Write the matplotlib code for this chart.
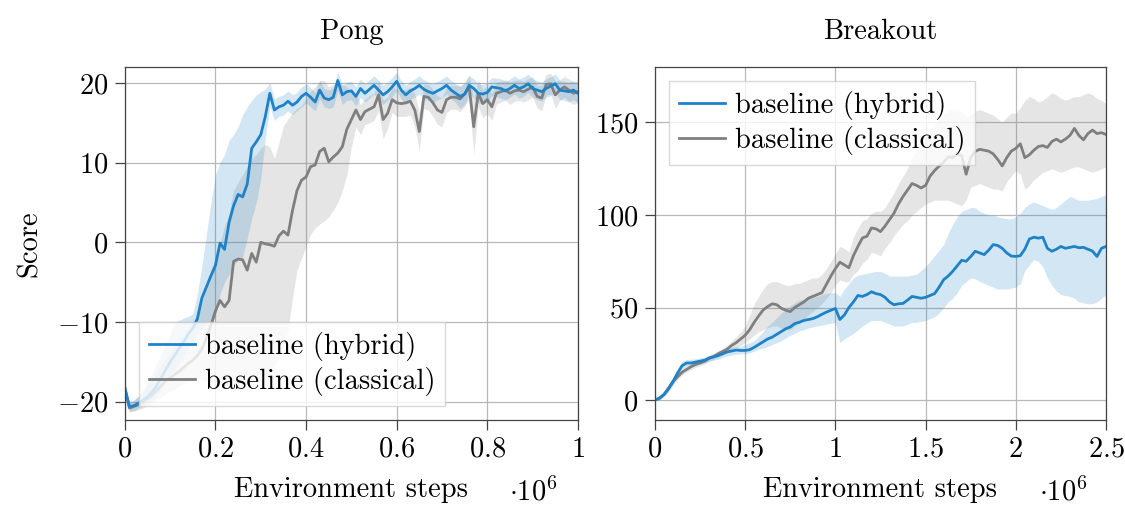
import matplotlib
matplotlib.use("Agg")
import matplotlib.pyplot as plt
import numpy as np
from matplotlib.ticker import FuncFormatter, MultipleLocator

# ---- Data ----
pong_steps = np.linspace(0, 1e6, 101)

pong_hyb = [-18.3, -20.6, -20.5, -20.2, -19.8, -19.4, -18.8, -18.0, -17.0, -16.0,
            -15.0, -14.2, -13.3, -12.5, -11.5, -10.8, -9.6, -7.0, -5.6, -4.2,
            -2.9, -0.1, -0.9, 2.5, 4.6, 6.0, 5.7, 7.3, 11.8, 12.6,
            13.5, 15.8, 18.7, 16.6, 17.0, 17.2, 17.7, 17.2, 17.6, 18.3,
            18.7, 18.2, 17.6, 19.1, 18.1, 17.9, 18.2, 20.3, 18.5, 18.9,
            19.0, 18.3, 19.3, 18.7, 19.2, 19.7, 19.1, 18.5, 18.9, 19.5,
            20.2, 19.1, 18.5, 19.0, 19.3, 19.7, 19.2, 18.9, 18.7, 19.0,
            19.3, 19.7, 19.1, 18.7, 18.3, 18.6, 19.7, 19.3, 18.7, 18.6,
            18.8, 19.5, 19.4, 19.3, 19.0, 19.3, 19.7, 19.3, 19.5, 19.9,
            19.3, 19.1, 18.9, 19.3, 19.6, 19.9, 19.1, 19.0, 18.9, 19.1,
            18.7]
pong_hyb_lo = [-18.8, -21.2, -21.1, -20.8, -20.5, -20.1, -19.8, -19.3, -18.5, -17.5,
               -16.5, -16.0, -15.2, -14.3, -13.3, -12.3, -11.5, -10.8, -10.2, -9.8,
               -9.3, -6.5, -5.0, -4.0, -2.8, -2.3, -1.8, 0.5, 3.0, 5.0,
               8.0, 13.0, 17.0, 15.3, 15.8, 16.0, 16.5, 16.0, 16.5, 17.0,
               17.5, 17.0, 16.5, 18.0, 17.0, 16.8, 17.0, 19.0, 17.3, 17.8,
               17.9, 17.1, 18.2, 17.6, 18.1, 18.6, 18.0, 17.3, 17.8, 18.3,
               19.0, 18.0, 17.3, 17.9, 18.2, 18.6, 18.0, 17.8, 17.5, 17.9,
               18.1, 18.6, 18.0, 17.5, 16.8, 17.3, 18.6, 18.1, 17.5, 17.4,
               17.6, 18.4, 18.3, 18.1, 17.9, 18.2, 18.6, 18.1, 18.3, 18.8,
               18.2, 17.9, 17.7, 18.2, 18.4, 18.8, 17.9, 17.8, 17.6, 17.9,
               17.5]
pong_hyb_hi = [-17.8, -20.0, -19.8, -19.3, -18.5, -17.5, -16.5, -15.2, -14.0, -12.8,
               -11.5, -10.0, -9.8, -9.5, -9.3, -9.0, -6.5, -3.0, 1.0, 5.0,
               8.5, 10.0, 11.0, 12.8, 13.5, 14.5, 16.0, 17.0, 17.8, 18.5,
               18.9, 19.2, 20.0, 18.0, 18.3, 18.5, 19.0, 18.5, 18.8, 19.5,
               19.9, 19.4, 18.8, 20.3, 19.3, 19.1, 19.4, 21.4, 19.7, 20.1,
               20.2, 19.5, 20.5, 19.9, 20.4, 20.9, 20.3, 19.7, 20.1, 20.7,
               21.3, 20.3, 19.7, 20.2, 20.5, 20.9, 20.4, 20.1, 19.9, 20.2,
               20.5, 20.9, 20.3, 19.9, 19.6, 19.9, 20.9, 20.5, 19.9, 19.8,
               20.0, 20.7, 20.6, 20.5, 20.2, 20.5, 20.9, 20.5, 20.7, 21.1,
               20.5, 20.3, 20.1, 20.5, 20.8, 21.1, 20.3, 20.2, 20.1, 20.3,
               19.9]

pong_cls = [-18.3, -20.8, -20.6, -20.4, -20.0, -19.6, -19.2, -18.6, -18.0, -17.4,
            -17.0, -16.6, -16.2, -15.7, -15.2, -14.8, -14.2, -13.4, -12.0, -10.4,
            -8.6, -7.3, -8.1, -7.3, -2.4, -2.1, -2.2, -3.5, -1.4, -2.5,
            0.0, -0.2, -0.3, -0.5, 0.8, 1.4, 0.9, 4.0, 6.5, 7.8,
            8.2, 9.5, 9.7, 11.4, 11.8, 10.1, 10.7, 11.2, 12.0, 14.2,
            15.4, 16.6, 15.4, 16.4, 16.7, 17.0, 18.5, 15.4, 16.2, 17.9,
            17.5, 17.4, 17.5, 17.7, 16.6, 13.9, 18.3, 18.2, 17.5, 16.6,
            16.3, 17.9, 18.2, 18.2, 18.0, 18.6, 19.5, 14.5, 18.7, 17.4,
            17.9, 17.0, 18.7, 18.9, 19.1, 18.7, 19.0, 19.1, 18.9, 19.2,
            19.5, 18.3, 18.1, 19.8, 19.9, 18.5, 19.1, 19.5, 19.1, 18.7,
            18.9]
pong_cls_lo = [-18.8, -21.3, -21.2, -21.0, -20.8, -20.5, -20.2, -19.8, -19.4, -19.0,
               -18.7, -18.4, -18.0, -17.7, -17.4, -17.0, -17.0, -17.2, -17.4, -17.5,
               -17.5, -17.6, -17.8, -18.0, -18.0, -18.0, -18.0, -17.8, -17.5, -17.2,
               -17.0, -16.5, -16.0, -15.5, -14.5, -13.0, -11.0, -7.0, -3.5, -2.0,
               -0.5, 1.0, 1.8, 2.3, 2.7, 3.2, 4.0, 5.0, 6.5, 8.5,
               12.0, 14.5, 13.5, 14.8, 15.0, 15.3, 16.5, 13.0, 14.3, 16.3,
               15.8, 15.8, 15.8, 16.0, 14.5, 11.5, 16.8, 16.6, 15.8, 14.8,
               14.5, 16.3, 16.7, 16.7, 16.4, 17.1, 18.0, 11.0, 17.0, 15.6,
               16.2, 15.3, 17.3, 17.6, 17.8, 17.3, 17.7, 17.8, 17.6, 17.9,
               18.2, 16.9, 16.5, 18.5, 18.6, 16.8, 17.8, 18.2, 17.7, 17.3,
               17.5]
pong_cls_hi = [-17.8, -20.2, -19.8, -19.3, -18.7, -18.0, -17.2, -16.3, -15.3, -14.5,
               -13.8, -13.0, -12.3, -11.6, -10.8, -10.0, -9.0, -7.5, -5.5, -3.5,
               -2.0, 0.0, 2.0, 3.5, 6.5, 7.5, 8.5, 9.5, 10.5, 11.0,
               11.8, 12.3, 12.0, 10.5, 12.5, 14.6, 15.5, 16.2, 16.8, 17.2,
               18.0, 19.0, 19.5, 20.3, 20.3, 19.5, 19.8, 20.0, 19.8, 19.5,
               18.8, 18.6, 17.3, 18.0, 18.4, 18.7, 20.3, 17.8, 18.2, 19.5,
               19.2, 19.0, 19.2, 19.4, 18.6, 16.3, 19.8, 19.8, 19.2, 18.4,
               18.1, 19.5, 19.7, 19.7, 19.6, 20.1, 21.0, 18.0, 20.4, 19.2,
               19.6, 18.7, 20.1, 20.2, 20.4, 20.1, 20.3, 20.4, 20.2, 20.5,
               20.8, 19.7, 19.7, 21.1, 21.2, 20.2, 20.4, 20.8, 20.5, 20.1,
               20.3]

brk_steps = np.linspace(0, 2.5e6, 101)

brk_hyb = [0, 1.0, 3, 6, 10, 14.5, 18.5, 20, 20, 20.5,
           21, 21.5, 22.7, 23.3, 24, 25, 26, 26.5, 27, 26.8,
           26.8, 27.2, 28.5, 30, 31.5, 33, 34, 35.5, 37, 38.5,
           39.5, 41.3, 42, 43, 43.5, 44, 45, 46.3, 47.5, 48.5,
           49.5, 43.5, 46, 50, 53, 56.5, 56, 57, 58.5, 57.5,
           57, 55.5, 53, 51.5, 52, 52.2, 54, 56, 55.5, 55,
           55.5, 56.5, 57.5, 61, 65, 67, 69.5, 72.5, 75.5, 75,
           77.5, 80.4, 79.5, 78.6, 81, 84, 83.5, 82, 79.5, 77.8,
           77.6, 78, 81.5, 87, 88, 87.5, 88, 82, 80.4, 81.5,
           83, 82, 82.5, 83, 82.3, 82.5, 81.5, 80.5, 77.6, 82,
           83]
brk_hyb_lo = [0, 0, 2, 4.5, 8, 12.5, 16.5, 18, 18.5, 19,
              19.5, 20, 21, 21.5, 22, 23, 23.8, 24.2, 24.8, 25,
              25, 25.5, 26.5, 27.5, 28, 29, 30, 31, 32, 33.5,
              35, 36, 37.5, 38, 39, 39.5, 40, 40.5, 41, 41.5,
              42, 31, 33, 34.5, 36, 38, 40, 41.5, 43, 43,
              43, 42, 41, 40, 40, 40, 41, 42, 42, 42.5,
              43, 44, 45, 47, 50, 53, 55, 58, 62, 64,
              66, 65.5, 64, 63, 62, 61, 60, 60, 60, 60.5,
              61, 63, 70, 73, 76, 75, 72, 66, 62, 59,
              57, 56.5, 56, 55, 53, 52.5, 52, 52, 53, 55,
              57]
brk_hyb_hi = [0.5, 2, 4.5, 8, 12.5, 17, 21, 22, 22, 22.3,
              22.8, 23.2, 24.3, 25, 25.8, 26.8, 28, 28.5, 29, 29,
              30, 31, 32, 34.5, 37, 40, 42, 44.5, 47, 49,
              51, 52.5, 54, 54.5, 55, 55.5, 56, 57, 57.5, 58,
              58, 56, 60, 63, 66, 67.5, 68, 68.5, 69, 69.5,
              69.5, 68.5, 67, 67, 67, 67, 67, 67.5, 68, 70,
              72, 75, 78, 81, 84, 90, 95, 99, 102, 103,
              104, 104, 102, 101, 100, 100, 99, 98.5, 98, 98,
              99, 101, 104, 106, 107, 106, 105, 104, 103, 104,
              106, 108, 110, 109, 108, 108, 108, 108.5, 109, 110,
              111]

brk_cls = [0, 1.0, 3, 6.5, 10, 12.5, 15, 16.5, 18, 19.2,
           20, 21, 22.5, 23.5, 25, 26.2, 27.5, 29.5, 31, 33,
           35, 38, 42, 45.5, 48.7, 50.5, 52, 51.5, 49.6, 48.5,
           47.8, 50, 51.5, 53, 55, 56, 57, 58, 62.5, 67,
           71, 74.5, 73, 71.5, 78, 83, 87.6, 88.5, 93, 92.5,
           91, 94, 97.5, 101, 106, 110, 113.5, 117, 116, 114.6,
           116, 121, 124, 126.4, 128.5, 131.5, 131, 133, 132, 122,
           131, 134.4, 135.5, 135, 134.5, 133, 130, 126.5, 131, 134.5,
           136, 138.5, 131, 132.5, 135, 137, 137.5, 136.5, 139.7, 141,
           139.5, 141, 143, 146.8, 143, 140.6, 144, 145.9, 144, 144.5,
           143.5]
brk_cls_lo = [0, 0, 2, 5, 8.5, 11, 13.5, 15, 16.5, 17.7,
              18.5, 19.5, 21, 22, 23.3, 24.5, 25.7, 27.5, 28.5, 29.5,
              31, 33, 35, 37, 38, 39, 40, 40, 39, 38,
              38, 40, 42, 44, 46, 48, 50, 52, 55, 58,
              62, 65, 64, 64, 68, 70, 74, 76, 80, 79,
              78, 82, 85, 89, 92, 95, 97, 100, 102, 104,
              106, 107, 108, 108, 108, 108, 107, 106, 105, 108,
              115, 116, 117, 116, 115, 114, 114, 113, 118, 121,
              124, 122, 114, 116, 119, 121, 123, 124, 125, 124,
              123, 124, 125, 126, 126, 125, 124, 123, 124, 125,
              126]
brk_cls_hi = [0.5, 2, 4, 8, 11.5, 14, 16.5, 18, 19.5, 20.7,
              21.5, 22.5, 24, 25, 26.7, 28, 29.5, 32, 34, 37,
              40, 46, 52, 56, 60, 63, 64, 64, 63, 62,
              62, 63, 63, 64, 65, 66, 66, 68, 71, 75,
              79, 83, 82, 80, 88, 93, 97, 98, 101, 102,
              102, 104, 108, 112, 117, 121, 125, 131, 135, 139,
              142, 146, 149, 152, 155, 156, 157, 157, 156, 153,
              154, 156, 157, 156, 155, 154, 152, 150, 153, 155,
              155, 158, 162, 164, 163, 161, 162, 164, 166, 165,
              163, 162, 163, 164, 164, 165, 166, 165, 163, 162,
              160]

BLUE = '#1f82c6'
GRAY = '#7f7f7f'
FS = 20.5

plt.rcParams.update({
    'font.family': 'cmr10',
    'mathtext.fontset': 'cm',
    'font.size': FS,
})

def steps_fmt(v, pos):
    return r'$%g$' % round(v / 1e6, 3)

def num_fmt(v, pos):
    return r'$%g$' % v

fig = plt.figure(figsize=(11.25, 5.07), dpi=100)
ax1 = fig.add_axes([0.111, 0.1716, 0.4027, 0.6963])
ax2 = fig.add_axes([0.5822, 0.1716, 0.4009, 0.6963])

def style(ax):
    ax.grid(True, color='#b8b8b8', linewidth=0.9)
    ax.set_axisbelow(True)
    for s in ax.spines.values():
        s.set_color('#444444')
        s.set_linewidth(0.9)
    ax.tick_params(direction='out', length=7, width=0.9, color='#444444',
                   labelsize=FS, pad=5)
    ax.xaxis.set_major_formatter(FuncFormatter(steps_fmt))
    ax.yaxis.set_major_formatter(FuncFormatter(num_fmt))
    ax.set_xlabel('Environment steps', fontsize=FS, labelpad=10)

def add_legend(ax, loc):
    h, l = ax.get_legend_handles_labels()
    ax.legend(h[::-1], l[::-1], loc=loc, fontsize=FS, fancybox=False,
              edgecolor='#d0d0d0', framealpha=0.8, labelspacing=0.2,
              handlelength=1.6, handletextpad=0.35, borderaxespad=0.5,
              borderpad=0.35)

# ---- Pong ----
ax1.fill_between(pong_steps, pong_cls_lo, pong_cls_hi, color=GRAY, alpha=0.2, linewidth=0)
ax1.fill_between(pong_steps, pong_hyb_lo, pong_hyb_hi, color=BLUE, alpha=0.2, linewidth=0)
ax1.plot(pong_steps, pong_cls, color=GRAY, lw=2, label='baseline (classical)')
ax1.plot(pong_steps, pong_hyb, color=BLUE, lw=2, label='baseline (hybrid)')
ax1.set_xlim(0, 1e6)
ax1.set_ylim(-22.3, 22.0)
ax1.xaxis.set_major_locator(MultipleLocator(0.2e6))
ax1.yaxis.set_major_locator(MultipleLocator(10))
style(ax1)
ax1.set_title('Pong', fontsize=FS, pad=20)
ax1.set_ylabel('Score', fontsize=FS, labelpad=10)
add_legend(ax1, 'lower left')

# ---- Breakout ----
ax2.fill_between(brk_steps, brk_cls_lo, brk_cls_hi, color=GRAY, alpha=0.2, linewidth=0)
ax2.fill_between(brk_steps, brk_hyb_lo, brk_hyb_hi, color=BLUE, alpha=0.2, linewidth=0)
ax2.plot(brk_steps, brk_cls, color=GRAY, lw=2, label='baseline (classical)')
ax2.plot(brk_steps, brk_hyb, color=BLUE, lw=2, label='baseline (hybrid)')
ax2.set_xlim(0, 2.5e6)
ax2.set_ylim(-10.8, 180)
ax2.xaxis.set_major_locator(MultipleLocator(0.5e6))
ax2.yaxis.set_major_locator(MultipleLocator(50))
style(ax2)
ax2.set_title('Breakout', fontsize=FS, pad=20)
add_legend(ax2, 'upper left')

# ---- multiplier notes ----
fig.text(533 / 1125, 1 - 492 / 507, r'$\cdot 10^6$', fontsize=FS, ha='center', va='center')
fig.text(1063 / 1125, 1 - 492 / 507, r'$\cdot 10^6$', fontsize=FS, ha='center', va='center')

plt.savefig('out.png', dpi=100)
